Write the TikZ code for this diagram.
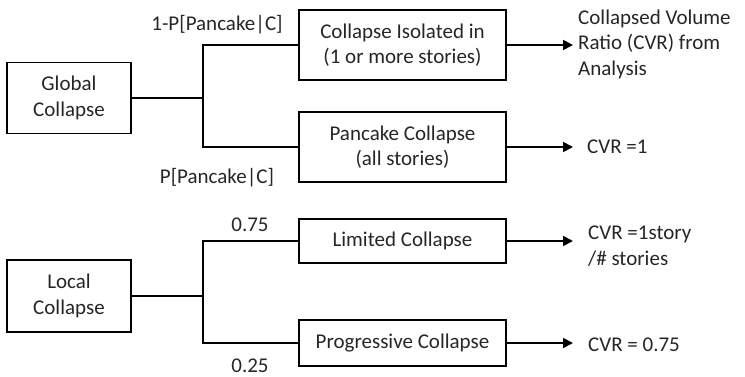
\documentclass[tikz,border=0pt]{standalone}
\usepackage{fontspec}
\setmainfont{Carlito}
\usetikzlibrary{arrows.meta}
\begin{document}
\begin{tikzpicture}[x=1pt,y=-1pt,
  every node/.style={font=\fontsize{21}{25.5}\selectfont, text=black!85},
  box/.style={draw, line width=1.8pt, minimum width=207pt, align=center, inner sep=0pt},
  lbox/.style={draw, line width=1.8pt, minimum width=124pt, minimum height=71pt, align=center, inner sep=0pt},
  conn/.style={line width=1.8pt},
  arr/.style={line width=1.8pt, -{Triangle[length=10pt,width=10pt]}},
  outtxt/.style={anchor=west, align=left, inner sep=0pt}]
\useasboundingbox (0,0) rectangle (745,377);
% left boxes
\node[lbox] (glob) at (69,98) {Global\\Collapse};
\node[lbox, minimum height=72pt] (loc) at (69,296) {Local\\Collapse};
% middle boxes
\node[box, minimum height=70pt] (iso) at (402.5,45) {Collapse Isolated in\\(1 or more stories)};
\node[box, minimum height=70pt] (pan) at (402.5,147) {Pancake Collapse\\(all stories)};
\node[box, minimum height=44pt] (lim) at (402.5,241) {Limited Collapse};
\node[box, minimum height=46pt] (pro) at (402.5,343) {Progressive Collapse};
% outcomes
\node[outtxt] (o1) at (578,44) {Collapsed Volume\\Ratio (CVR) from\\Analysis};
\node[outtxt] (o2) at (587,147) {CVR =1};
\node[outtxt] (o3) at (588,246) {CVR =1story\\/\# stories};
\node[outtxt] (o4) at (588,345) {CVR = 0.75};
% branch points
\coordinate (g) at (203,98);
\coordinate (l) at (203,296);
\draw[conn] (glob.east) -- (g);
\draw[conn] (g) |- (iso.west);
\draw[conn] (g) |- (pan.west);
\draw[conn] (loc.east) -- (l);
\draw[conn] (l) |- (lim.west);
\draw[conn] (l) |- (pro.west);
% probability labels
\node (p1) at (217,25) {1-P[Pancake|C]};
\node (p2) at (217,178) {P[Pancake|C]};
\node (p3) at (250,225) {0.75};
\node (p4) at (250,366) {0.25};
% arrows
\coordinate (a1) at (573,45);
\coordinate (a2) at (573,147);
\coordinate (a3) at (573,241);
\coordinate (a4) at (573,343);
\draw[arr] (iso.east) -- (a1);
\draw[arr] (pan.east) -- (a2);
\draw[arr] (lim.east) -- (a3);
\draw[arr] (pro.east) -- (a4);
\end{tikzpicture}
\end{document}
